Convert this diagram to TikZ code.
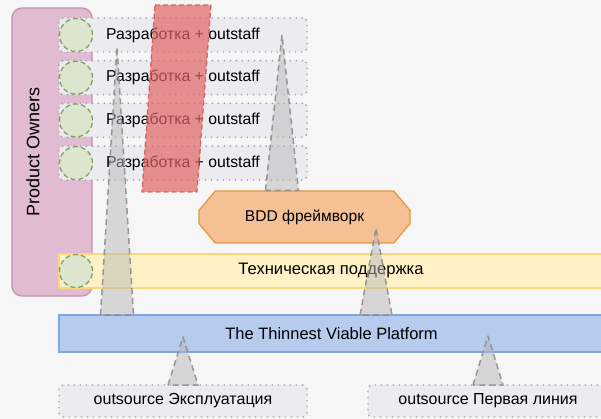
\documentclass[tikz,border=0pt]{standalone}
\usepackage{fontspec}
\setmainfont{Liberation Sans}
\usepackage{xcolor}
\usepackage{tikz}
\usetikzlibrary{positioning,shapes.misc}

\definecolor{bgcol}{HTML}{F6F6F6}
\definecolor{pofill}{HTML}{E0BBD1}
\definecolor{podraw}{HTML}{C591B3}
\definecolor{rowfill}{HTML}{EBEBF0}
\definecolor{dotgray}{HTML}{A0A0A8}
\definecolor{grfill}{HTML}{DCE6CF}
\definecolor{grdraw}{HTML}{82A060}
\definecolor{redfill}{HTML}{E06666}
\definecolor{reddraw}{HTML}{D05050}
\definecolor{orfill}{HTML}{F5C194}
\definecolor{ordraw}{HTML}{E8963F}
\definecolor{yefill}{HTML}{FFF1C6}
\definecolor{yedraw}{HTML}{F8D878}
\definecolor{blfill}{HTML}{B7CBEF}
\definecolor{bldraw}{HTML}{7EA6E0}
\definecolor{spfill}{HTML}{B8B8B8}
\definecolor{spdraw}{HTML}{8A8A8A}

% grey wedge from a base centre up to a tip
\newcommand{\spike}[3]{\draw[spike] ([xshift=-#3]#1) -- (#2) -- ([xshift=#3]#1) -- cycle;}

\begin{document}
\begin{tikzpicture}[
    x=1pt, y=-1pt,
    font=\fontsize{16}{19}\selectfont,
    node distance=8.7pt,
    po/.style={draw=podraw, fill=pofill, line width=1.3pt, rounded corners=10pt, minimum width=80pt, minimum height=288pt, outer sep=0pt},
    devrow/.style={draw=dotgray, fill=rowfill, rounded corners=4pt, line width=1.4pt, dash pattern=on 1.4pt off 4.6pt, minimum width=248pt, minimum height=34pt, inner sep=0pt, outer sep=0pt, font=\fontsize{15.8}{19}\selectfont},
    member/.style={circle, draw=grdraw, fill=grfill, line width=1.3pt, dash pattern=on 5pt off 3pt, minimum size=33pt, inner sep=0pt},
    redbar/.style={draw=reddraw, fill=redfill, fill opacity=.7, draw opacity=.8, line width=1.3pt, dash pattern=on 5pt off 3pt},
    bddbox/.style={chamfered rectangle, chamfered rectangle angle=40, chamfered rectangle xsep=15pt, chamfered rectangle ysep=12pt, draw=ordraw, fill=orfill, line width=1.3pt, minimum width=211pt, minimum height=52pt, inner sep=0pt},
    band/.style={rectangle, line width=1.3pt, minimum height=34pt, inner sep=0pt, outer sep=0pt},
    outbox/.style={draw=dotgray, fill=rowfill, rounded corners=4pt, line width=1.4pt, dash pattern=on 1.4pt off 4.6pt, minimum height=32pt, inner sep=0pt, outer sep=0pt},
    spike/.style={fill=spfill, fill opacity=.5, draw=spdraw, draw opacity=.85, line width=1.5pt, dash pattern=on 6pt off 4pt, line join=round}
]
\useasboundingbox (0,0) rectangle (601,419);
\clip (0,0) rectangle (601,419);
\fill[bgcol] (0,0) rectangle (601,419);

\node[po] (po) at (52,152) {};
\node[rotate=90, font=\fontsize{18}{21}\selectfont] (polabel) at ([xshift=21pt]po.west) {Product Owners};

\node[devrow] (dev1) at (183,35) {Разработка + outstaff};
\node[devrow, below=of dev1] (dev2) {Разработка + outstaff};
\node[devrow, below=of dev2] (dev3) {Разработка + outstaff};
\node[devrow, below=of dev3] (dev4) {Разработка + outstaff};

\node[member] (m1) at ([xshift=17pt]dev1.west) {};
\node[member] (m2) at ([xshift=17pt]dev2.west) {};
\node[member] (m3) at ([xshift=17pt]dev3.west) {};
\node[member] (m4) at ([xshift=17pt]dev4.west) {};

\draw[redbar] (155,5) -- (211,5) -- (197,192) -- (142,192) -- cycle;

\node[bddbox, font=\fontsize{15.6}{19}\selectfont] (bdd) at (304.5,217) {BDD фреймворк};

\node[band, draw=yedraw, fill=yefill, minimum width=544pt, font=\fontsize{16.6}{19}\selectfont] (tech) at (331,271) {Техническая поддержка};
\node[member] (m5) at ([xshift=17pt]tech.west) {};
\node[band, draw=bldraw, fill=blfill, minimum width=545pt, minimum height=37pt, font=\fontsize{16.5}{19}\selectfont] (pf) at (331.5,333.5) {The Thinnest Viable Platform};

\node[outbox, minimum width=248pt] (out1) at (183,401) {outsource Эксплуатация};
\node[outbox, minimum width=240pt] (out2) at (488,401) {outsource Первая линия};

% tips and bases of the wedges
\coordinate (tip1) at ([xshift=-66pt,yshift=5pt]dev1.south);
\coordinate (tip2) at ([xshift=99pt]dev1.center);
\coordinate (tip3) at ([xshift=71.5pt,yshift=-11pt]bdd.center);
\coordinate (tip4) at ([yshift=-3.5pt]out1.north |- pf.center);
\coordinate (tip5) at ([yshift=-2.5pt]out2.north |- pf.center);
\coordinate (base1) at (tip1 |- pf.north);
\coordinate (base2) at (tip2 |- bdd.north);
\coordinate (base3) at (tip3 |- pf.north);
\coordinate (base4) at (out1.north);
\coordinate (base5) at (out2.north);

\spike{base1}{tip1}{16.5pt}
\spike{base2}{tip2}{16.5pt}
\spike{base3}{tip3}{16pt}
\spike{base4}{tip4}{15pt}
\spike{base5}{tip5}{15pt}
\end{tikzpicture}
\end{document}
